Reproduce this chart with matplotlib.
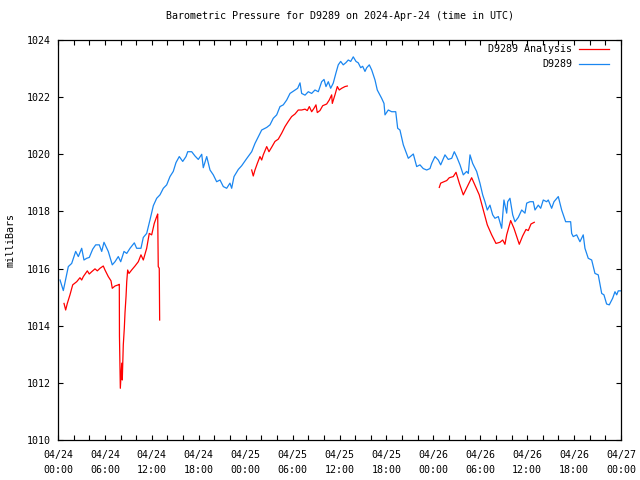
import numpy as np
import matplotlib
matplotlib.use("Agg")
from matplotlib import pyplot as plt
from matplotlib.ticker import MultipleLocator

# hours since 2024-04-24 00:00 UTC, pressure in mb
blue_h = [0.26, 0.68, 1.32, 1.75, 2.26, 2.6, 3.03, 3.32, 3.67, 4.0, 4.44, 4.82, 5.28,
          5.59, 5.88, 6.43, 6.94, 7.29, 7.71, 8.02, 8.44, 8.79, 9.21, 9.76, 10.06,
          10.61, 10.91, 11.34, 11.76, 12.19, 12.62, 13.04, 13.47, 13.9, 14.32, 14.74,
          15.09, 15.51, 15.95, 16.37, 16.59, 17.1, 17.52, 17.94, 18.38, 18.58, 19.02,
          19.44, 19.86, 20.29, 20.72, 21.14, 21.57, 21.99, 22.21, 22.51, 23.06, 23.49,
          24.13, 24.77, 25.19, 26.05, 26.69, 27.11, 27.53, 27.97, 28.39, 28.81, 29.25,
          29.67, 30.31, 30.65, 30.95, 31.16, 31.59, 32.01, 32.44, 32.86, 33.29, 33.72,
          34.02, 34.27, 34.57, 34.87, 35.2, 35.55, 35.84, 36.15, 36.48, 36.83, 37.12,
          37.43, 37.76, 38.11, 38.4, 38.71, 38.96, 39.26, 39.48, 39.81, 40.12, 40.54,
          40.83, 41.39, 41.69, 41.82, 42.24, 42.67, 43.19, 43.44, 43.73, 44.16, 44.8,
          45.44, 45.87, 46.29, 46.71, 47.15, 47.57, 47.79, 48.21, 48.63, 48.94, 49.49,
          49.91, 50.35, 50.68, 50.98, 51.41, 51.83, 52.26, 52.47, 52.69, 53.03, 53.54,
          53.96, 54.31, 54.6, 54.9, 55.24, 55.59, 55.88, 56.31, 56.74, 57.03, 57.38,
          57.51, 57.8, 58.15, 58.44, 58.86, 59.3, 59.72, 59.94, 60.36, 60.78, 61.0,
          61.42, 61.73, 62.06, 62.49, 62.7, 63.13, 63.43, 63.98, 64.41, 64.92, 65.56,
          65.69, 65.89, 66.33, 66.75, 67.17, 67.39, 67.81, 68.25, 68.67, 69.09, 69.53,
          69.82, 70.16, 70.5, 70.93, 71.23, 71.45, 71.65, 72.0]
blue_p = [1015.6, 1015.23, 1016.07, 1016.18, 1016.6, 1016.42, 1016.71, 1016.3, 1016.36,
          1016.39, 1016.68, 1016.83, 1016.83, 1016.6, 1016.92, 1016.6, 1016.13, 1016.24,
          1016.42, 1016.24, 1016.6, 1016.53, 1016.71, 1016.9, 1016.71, 1016.71, 1017.09,
          1017.23, 1017.7, 1018.2, 1018.46, 1018.58, 1018.81, 1018.93, 1019.22, 1019.4,
          1019.71, 1019.92, 1019.75, 1019.92, 1020.09, 1020.09, 1019.94, 1019.82, 1020.0,
          1019.53, 1019.92, 1019.45, 1019.28, 1019.04, 1019.1, 1018.87, 1018.81, 1018.99,
          1018.81, 1019.22, 1019.47, 1019.6, 1019.85, 1020.09, 1020.38, 1020.85, 1020.94,
          1021.03, 1021.26, 1021.38, 1021.67, 1021.73, 1021.9, 1022.13, 1022.25, 1022.31,
          1022.5, 1022.13, 1022.07, 1022.19, 1022.13, 1022.25, 1022.19, 1022.54, 1022.62,
          1022.37, 1022.54, 1022.31, 1022.49, 1022.85, 1023.13, 1023.25, 1023.13, 1023.21,
          1023.3, 1023.25, 1023.41, 1023.25, 1023.2, 1023.03, 1023.08, 1022.9, 1023.03,
          1023.13, 1022.95, 1022.6, 1022.25, 1021.96, 1021.78, 1021.38, 1021.55, 1021.49,
          1021.49, 1020.91, 1020.85, 1020.33, 1019.86, 1020.01, 1019.57, 1019.63, 1019.5,
          1019.45, 1019.5, 1019.68, 1019.92, 1019.8, 1019.63, 1019.98, 1019.82, 1019.86,
          1020.09, 1019.92, 1019.63, 1019.28, 1019.4, 1019.33, 1019.98, 1019.68, 1019.4,
          1018.99, 1018.58, 1018.34, 1018.05, 1018.22, 1017.88, 1017.76, 1017.82, 1017.41,
          1018.4, 1017.94, 1018.34, 1018.46, 1017.88, 1017.64, 1017.79, 1018.05, 1017.94,
          1018.29, 1018.34, 1018.34, 1018.05, 1018.22, 1018.11, 1018.4, 1018.34, 1018.4,
          1018.11, 1018.34, 1018.52, 1018.05, 1017.64, 1017.64, 1017.23, 1017.12, 1017.18,
          1016.94, 1017.18, 1016.71, 1016.36, 1016.3, 1015.83, 1015.78, 1015.13, 1015.08,
          1014.76, 1014.73, 1014.96, 1015.19, 1015.08, 1015.22, 1015.22]

# analysis series, three separate pieces
red1_h = [0.77, 0.98, 1.19, 1.53, 1.88, 2.39, 2.81, 3.03, 3.24, 3.75, 4.0, 4.31, 4.73,
          5.03, 5.37, 5.79, 6.01, 6.43, 6.78, 6.94, 7.29, 7.71, 7.84, 7.86, 7.97, 8.15,
          8.22, 8.35, 8.48, 8.57, 8.7, 8.79, 8.91, 9.08, 9.42, 9.85, 10.27, 10.61, 10.91,
          11.34, 11.67, 11.98, 12.31, 12.62, 12.75, 12.82, 12.95, 13.0]
red1_p = [1014.78, 1014.55, 1014.78, 1015.08, 1015.43, 1015.54, 1015.68, 1015.6, 1015.72,
          1015.92, 1015.81, 1015.89, 1015.99, 1015.92, 1016.01, 1016.09, 1015.95, 1015.72,
          1015.57, 1015.31, 1015.39, 1015.43, 1015.45, 1013.64, 1011.81, 1012.69, 1012.1,
          1013.33, 1013.91, 1014.46, 1015.02, 1015.54, 1015.95, 1015.83, 1015.95, 1016.09,
          1016.24, 1016.48, 1016.3, 1016.71, 1017.23, 1017.18, 1017.58, 1017.82, 1017.91,
          1016.07, 1016.01, 1014.2]
red2_h = [24.77, 24.97, 25.19, 25.49, 25.83, 26.05, 26.25, 26.69, 26.98, 27.33, 27.75,
          28.17, 28.61, 29.03, 29.45, 29.88, 30.31, 30.73, 31.16, 31.59, 31.88, 32.14,
          32.44, 32.74, 32.99, 33.16, 33.5, 33.85, 34.36, 34.69, 35.0, 35.08, 35.42,
          35.72, 35.97, 36.28, 36.7, 37.0]
red2_p = [1019.45, 1019.24, 1019.45, 1019.68, 1019.92, 1019.8, 1019.98, 1020.27, 1020.09,
          1020.25, 1020.45, 1020.53, 1020.74, 1020.97, 1021.15, 1021.32, 1021.41, 1021.55,
          1021.55, 1021.58, 1021.53, 1021.67, 1021.49, 1021.61, 1021.73, 1021.46, 1021.53,
          1021.7, 1021.76, 1021.9, 1022.08, 1021.78, 1022.08, 1022.37, 1022.25, 1022.31,
          1022.37, 1022.39]
red3_h = [48.76, 48.94, 49.36, 49.71, 50.04, 50.55, 50.9, 51.32, 51.83, 52.9, 53.87,
          54.39, 54.9, 55.46, 56.01, 56.52, 56.87, 57.16, 57.38, 57.89, 58.31, 58.99,
          59.42, 59.85, 60.14, 60.49, 60.91]
red3_p = [1018.84, 1018.99, 1019.04, 1019.08, 1019.18, 1019.22, 1019.37, 1018.99, 1018.58,
          1019.18, 1018.58, 1018.05, 1017.53, 1017.18, 1016.88, 1016.92, 1017.0, 1016.85,
          1017.18, 1017.68, 1017.41, 1016.85, 1017.14, 1017.37, 1017.33, 1017.56, 1017.62]

tick_hours = list(range(0, 73, 6))
tick_labels = ["04/24\n00:00", "04/24\n06:00", "04/24\n12:00", "04/24\n18:00",
               "04/25\n00:00", "04/25\n06:00", "04/25\n12:00", "04/25\n18:00",
               "04/26\n00:00", "04/26\n06:00", "04/26\n12:00", "04/26\n18:00",
               "04/27\n00:00"]

plt.rcParams['font.family'] = 'DejaVu Sans Mono'
plt.rcParams['font.size'] = 7.2

fig = plt.figure(figsize=(6.4, 4.8), dpi=100)
ax = fig.add_axes([58/640, 40/480, 563/640, 400/480])

red = '#ff0000'
blue = '#1a86f0'
ax.plot(red1_h, red1_p, color=red, lw=0.9, label='D9289 Analysis')
ax.plot(red2_h, red2_p, color=red, lw=0.9)
ax.plot(red3_h, red3_p, color=red, lw=0.9)
ax.plot(blue_h, blue_p, color=blue, lw=0.9, label='D9289')

ax.set_xlim(0, 72)
ax.set_ylim(1010, 1024)
ax.set_xticks(tick_hours)
ax.set_xticklabels(tick_labels, linespacing=1.6)
ax.xaxis.set_minor_locator(MultipleLocator(2))
ax.yaxis.set_major_locator(MultipleLocator(2))
ax.tick_params(which='both', direction='in', top=True, right=True,
               length=3.5, width=0.8, colors='black')
ax.tick_params(axis='x', pad=7.5)
ax.tick_params(axis='y', pad=5)
for s in ax.spines.values():
    s.set_linewidth(0.9)

ax.set_title('Barometric Pressure for D9289 on 2024-Apr-24 (time in UTC)',
             fontsize=7.2, pad=15)
ax.set_ylabel('milliBars', labelpad=8)

ax.legend(loc='upper right', frameon=False, markerfirst=False, handlelength=3.0,
          borderaxespad=0.15, borderpad=0.3, labelspacing=0.5, handletextpad=0.7,
          bbox_to_anchor=(0.987, 1.0))

fig.savefig('out.png', dpi=100)
